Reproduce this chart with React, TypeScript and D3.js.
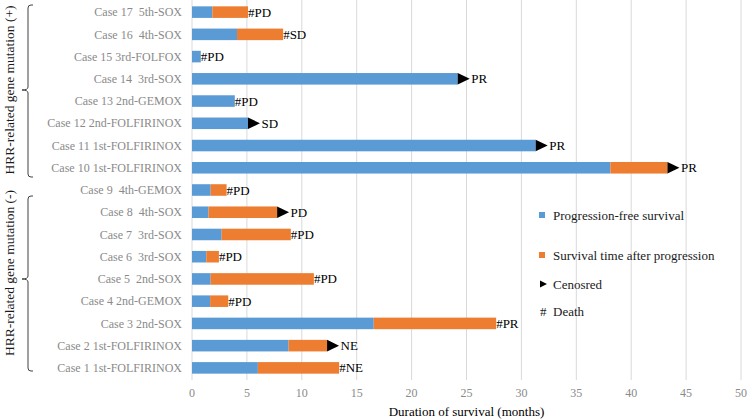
import React from "react";
import * as d3 from "d3";

const caseLabels = [
  "Case 17  5th-SOX",
  "Case 16  4th-SOX",
  "Case 15 3rd-FOLFOX",
  "Case 14  3rd-SOX",
  "Case 13 2nd-GEMOX",
  "Case 12 2nd-FOLFIRINOX",
  "Case 11 1st-FOLFIRINOX",
  "Case 10 1st-FOLFIRINOX",
  "Case 9  4th-GEMOX",
  "Case 8  4th-SOX",
  "Case 7  3rd-SOX",
  "Case 6  3rd-SOX",
  "Case 5  2nd-SOX",
  "Case 4 2nd-GEMOX",
  "Case 3 2nd-SOX",
  "Case 2 1st-FOLFIRINOX",
  "Case 1 1st-FOLFIRINOX",
];
const pfs = [1.85, 4.1, 0.8, 24.2, 3.9, 5.1, 31.3, 38.1, 1.7, 1.5, 2.7, 1.3, 1.7, 1.65, 16.55, 8.8, 6.0];
const postProgression = [3.25, 4.2, 0, 0, 0, 0, 0, 5.2, 1.45, 6.25, 6.3, 1.15, 9.4, 1.65, 11.15, 3.5, 7.4];
const censored = [false, false, false, true, false, true, true, true, false, true, false, false, false, false, false, true, false];
const outcomes = ["PD", "SD", "PD", "PR", "PD", "SD", "PR", "PR", "PD", "PD", "PD", "PD", "PD", "PD", "PR", "NE", "NE"];
const xTicks = [0, 5, 10, 15, 20, 25, 30, 35, 40, 45, 50];
const groupLabels = ["HRR-related gene mutation (+)", "HRR-related gene mutation (-)"];
const legendLabels = ["Progression-free survival", "Survival time after progression", "Cenosred", "Death"];
const axisTitle = "Duration of survival (months)";

const BLUE = "#5B9BD5";
const ORANGE = "#ED7D31";
const FONT = '"Liberation Serif", "Times New Roman", "DejaVu Serif", serif';

export default function App() {
  const W = 747, H = 419;
  const x = d3.scaleLinear().domain([0, 50]).range([192, 741]);
  const y = d3.scaleBand<string>().domain(caseLabels).range([1, 379]).paddingInner(0.48).paddingOuter(0.24);
  const bh = y.bandwidth();
  const triW = 12;

  const brace = (top: number, mid: number, bot: number) => {
    const bx = 28, hx = 33, tx = 22, r = 3;
    return `M${hx},${top} L${bx + r},${top} Q${bx},${top} ${bx},${top + r} L${bx},${mid - r} Q${bx},${mid} ${tx},${mid} Q${bx},${mid} ${bx},${mid + r} L${bx},${bot - r} Q${bx},${bot} ${bx + r},${bot} L${hx},${bot}`;
  };

  return (
    <svg width={W} height={H} style={{ position: "absolute", left: 0, top: 0, background: "#fff", fontFamily: FONT }}>
      {xTicks.map((t) => (
        <line key={"g" + t} x1={x(t)} x2={x(t)} y1={0} y2={380} stroke="#d9d9d9" strokeWidth={1} />
      ))}
      {caseLabels.map((c, i) => {
        const yc = y(c)! + bh / 2;
        const end = pfs[i] + postProgression[i];
        const xe = x(end);
        return (
          <g key={c}>
            <text x={182} y={yc} dy="0.35em" textAnchor="end" fontSize={12} fill="#8a8a8a" style={{ whiteSpace: "pre", fontFamily: FONT }}>
              {c}
            </text>
            <rect x={x(0)} y={y(c)} width={x(pfs[i]) - x(0)} height={bh} fill={BLUE} />
            {postProgression[i] > 0 && (
              <rect x={x(pfs[i])} y={y(c)} width={x(end) - x(pfs[i])} height={bh} fill={ORANGE} />
            )}
            {censored[i] ? (
              <>
                <path d={`M${xe},${yc - bh / 2} L${xe + triW},${yc} L${xe},${yc + bh / 2} Z`} fill="#000" />
                <text x={xe + triW + 1.5} y={yc} dy="0.35em" fontSize={13} fill="#000" style={{ fontFamily: FONT }}>{outcomes[i]}</text>
              </>
            ) : (
              <text x={xe} y={yc} dy="0.35em" fontSize={13} fill="#000" style={{ fontFamily: FONT }}>{"#" + outcomes[i]}</text>
            )}
          </g>
        );
      })}
      {xTicks.map((t) => (
        <text key={"t" + t} x={x(t)} y={393} dy="0.35em" textAnchor="middle" fontSize={12} fill="#8a8a8a" style={{ fontFamily: FONT }}>{t}</text>
      ))}
      <text x={(x(0) + x(50)) / 2} y={411} dy="0.35em" textAnchor="middle" fontSize={13} fill="#000" style={{ fontFamily: FONT }}>{axisTitle}</text>

      <path d={brace(5, 90, 177)} fill="none" stroke="#404040" strokeWidth={1} />
      <path d={brace(196, 279, 371)} fill="none" stroke="#404040" strokeWidth={1} />
      <text transform="translate(14,90) rotate(-90)" textAnchor="middle" fontSize={13.5} fill="#1a1a1a" style={{ fontFamily: FONT }}>{groupLabels[0]}</text>
      <text transform="translate(14,273) rotate(-90)" textAnchor="middle" fontSize={13.5} fill="#1a1a1a" style={{ fontFamily: FONT }}>{groupLabels[1]}</text>

      <rect x={539} y={212} width={6} height={6} fill={BLUE} />
      <text x={553} y={215} dy="0.35em" fontSize={13} fill="#1a1a1a" style={{ fontFamily: FONT }}>{legendLabels[0]}</text>
      <rect x={539} y={252} width={6} height={6} fill={ORANGE} />
      <text x={553} y={255} dy="0.35em" fontSize={13} fill="#1a1a1a" style={{ fontFamily: FONT }}>{legendLabels[1]}</text>
      <path d="M540,280.5 L547,284 L540,287.5 Z" fill="#000" />
      <text x={553} y={284} dy="0.35em" fontSize={13} fill="#1a1a1a" style={{ fontFamily: FONT }}>{legendLabels[2]}</text>
      <text x={540} y={311} dy="0.35em" fontSize={13} fill="#1a1a1a" style={{ fontFamily: FONT }}>#</text>
      <text x={553} y={311} dy="0.35em" fontSize={13} fill="#1a1a1a" style={{ fontFamily: FONT }}>{legendLabels[3]}</text>
    </svg>
  );
}
